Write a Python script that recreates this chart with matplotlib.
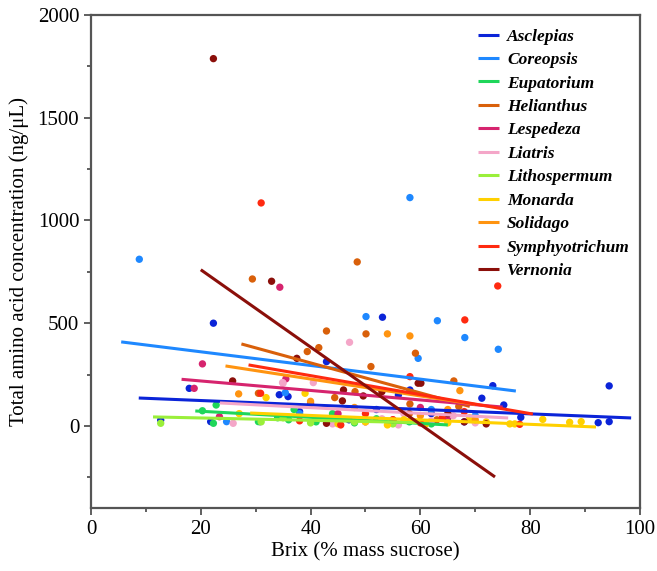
import numpy as np
import matplotlib.pyplot as plt
from matplotlib.ticker import MultipleLocator

plt.rcParams["font.family"] = ["Liberation Serif", "DejaVu Serif"]

# --- species, colours and the per-species observations (Brix %, amino acids ng/uL) ---
species = ["Asclepias", "Coreopsis", "Eupatorium", "Helianthus", "Lespedeza", "Liatris",
           "Lithospermum", "Monarda", "Solidago", "Symphyotrichum", "Vernonia"]
colors = ["#0b24d8", "#1e88ff", "#1fd65a", "#d9600a", "#d6246e", "#f4a6c8",
          "#9aef3a", "#ffd000", "#ff9410", "#ff2a10", "#8b0f0a"]

asclepias_x = [12.7, 17.9, 21.8, 22.3, 30.8, 34.3, 35.9, 42.9, 53.1, 56, 58.1, 62, 65, 71.2,
               73.2, 75.2, 78.3, 92.4, 94.4, 94.4, 47, 52, 68, 38]
asclepias_y = [29, 183, 21, 500, 21, 152, 143, 313, 529, 151, 175, 60, 40, 135,
               196, 102, 42, 16, 21, 195, 30, 80, 20, 70]
coreopsis_x = [8.8, 24.7, 35.4, 50.1, 58.1, 59.6, 63.1, 68.1, 74.2, 38, 45, 55, 62, 70]
coreopsis_y = [811, 21, 162, 532, 1111, 329, 512, 430, 373, 60, 40, 25, 80, 50]
eupatorium_x = [20.3, 22.8, 22.3, 30.5, 34, 36, 41, 44, 48, 52, 37, 58, 62]
eupatorium_y = [74, 102, 13, 21, 40, 30, 20, 60, 15, 35, 80, 20, 10]
helianthus_x = [29.4, 48.5, 42.9, 50.1, 41.5, 39.4, 59.1, 51, 44.4, 48.1, 58.1, 66.1, 30.5, 58, 63, 67]
helianthus_y = [715, 798, 462, 448, 381, 362, 354, 289, 138, 167, 107, 219, 159, 60, 30, 95]
lespedeza_x = [34.4, 20.3, 18.8, 35.5, 23.4, 40, 45, 55, 60, 65, 50]
lespedeza_y = [675, 302, 183, 229, 45, 110, 60, 30, 90, 45, 20]
liatris_x = [47.1, 34.9, 40.5, 25.9, 35, 44, 50, 53, 57, 62, 66, 70, 56]
liatris_y = [407, 211, 211, 13, 208, 10, 20, 35, 60, 25, 50, 15, 5]
lithospermum_x = [12.7, 31, 35, 40, 43, 48, 55]
lithospermum_y = [13, 20, 40, 15, 30, 20, 10]
monarda_x = [31.9, 39, 45, 50, 54, 57, 61, 65, 69, 72, 76.3, 77.2, 82.3, 87.2, 89.3, 27]
monarda_y = [138, 159, 10, 20, 5, 30, 10, 15, 40, 20, 10, 10, 32, 18, 21, 60]
solidago_x = [54.0, 58.1, 26.9, 67.2, 40, 48, 60, 65, 70]
solidago_y = [448, 438, 156, 172, 120, 90, 50, 80, 30]
symphyotrichum_x = [31.0, 74.1, 68.1, 30.9, 58.1, 45.5, 78.1, 55, 60, 64, 68, 50, 38]
symphyotrichum_y = [1085, 681, 516, 159, 240, 5, 8, 30, 15, 40, 70, 60, 25]
vernonia_x = [22.3, 32.9, 25.8, 37.5, 60.1, 46, 45.8, 49.6, 53, 59.6, 42.9, 65, 68, 72]
vernonia_y = [1787, 704, 219, 329, 208, 175, 122, 146, 167, 208, 13, 60, 20, 10]

points_x = [asclepias_x, coreopsis_x, eupatorium_x, helianthus_x, lespedeza_x, liatris_x,
            lithospermum_x, monarda_x, solidago_x, symphyotrichum_x, vernonia_x]
points_y = [asclepias_y, coreopsis_y, eupatorium_y, helianthus_y, lespedeza_y, liatris_y,
            lithospermum_y, monarda_y, solidago_y, symphyotrichum_y, vernonia_y]

# --- regression line endpoints (x start/end, fitted y start/end) ---
fit_x0 = [8.7, 5.5, 19.0, 27.4, 16.5, 23.5, 11.3, 29.0, 24.5, 28.7, 20.0]
fit_x1 = [98.4, 77.4, 65.0, 69.0, 75.0, 76.0, 60.0, 92.0, 70.0, 80.5, 73.6]
fit_y0 = [136, 409, 73, 399, 227, 112, 44, 63, 292, 297, 760]
fit_y1 = [39, 170, 5, 95, 92, 39, 16, -5, 105, 58, -248]

fig = plt.figure(figsize=(6.57, 5.71), dpi=100)
ax = fig.add_axes([0.1385, 0.110, 0.8355, 0.864])

for i, name in enumerate(species):
    ax.scatter(points_x[i], points_y[i], s=28, color=colors[i], edgecolors="none", zorder=2)
for i, name in enumerate(species):
    ax.plot([fit_x0[i], fit_x1[i]], [fit_y0[i], fit_y1[i]], color=colors[i], lw=2.2,
            label=name, zorder=3, solid_capstyle="butt")

ax.set_xlim(0, 100)
ax.set_ylim(-400, 2000)
ax.xaxis.set_major_locator(MultipleLocator(20))
ax.xaxis.set_minor_locator(MultipleLocator(10))
ax.yaxis.set_major_locator(MultipleLocator(500))
ax.yaxis.set_minor_locator(MultipleLocator(250))
ax.tick_params(which="both", direction="out", labelsize=15, color="#444444")
ax.tick_params(which="major", length=5, width=1.2)
ax.tick_params(which="minor", length=3, width=1.2)
for sp in ax.spines.values():
    sp.set_color("#555555")
    sp.set_linewidth(1.6)

ax.set_xlabel("Brix (% mass sucrose)", fontsize=15, labelpad=2)
ax.set_ylabel("Total amino acid concentration (ng/μL)", fontsize=15, labelpad=6)

leg = ax.legend(loc="upper right", bbox_to_anchor=(1.01, 1.004), frameon=False,
                prop={"family": "Liberation Serif", "style": "italic", "weight": "bold", "size": 12.5},
                handlelength=1.25, handletextpad=0.45, labelspacing=0.42)

fig.savefig("out.png", dpi=100)
